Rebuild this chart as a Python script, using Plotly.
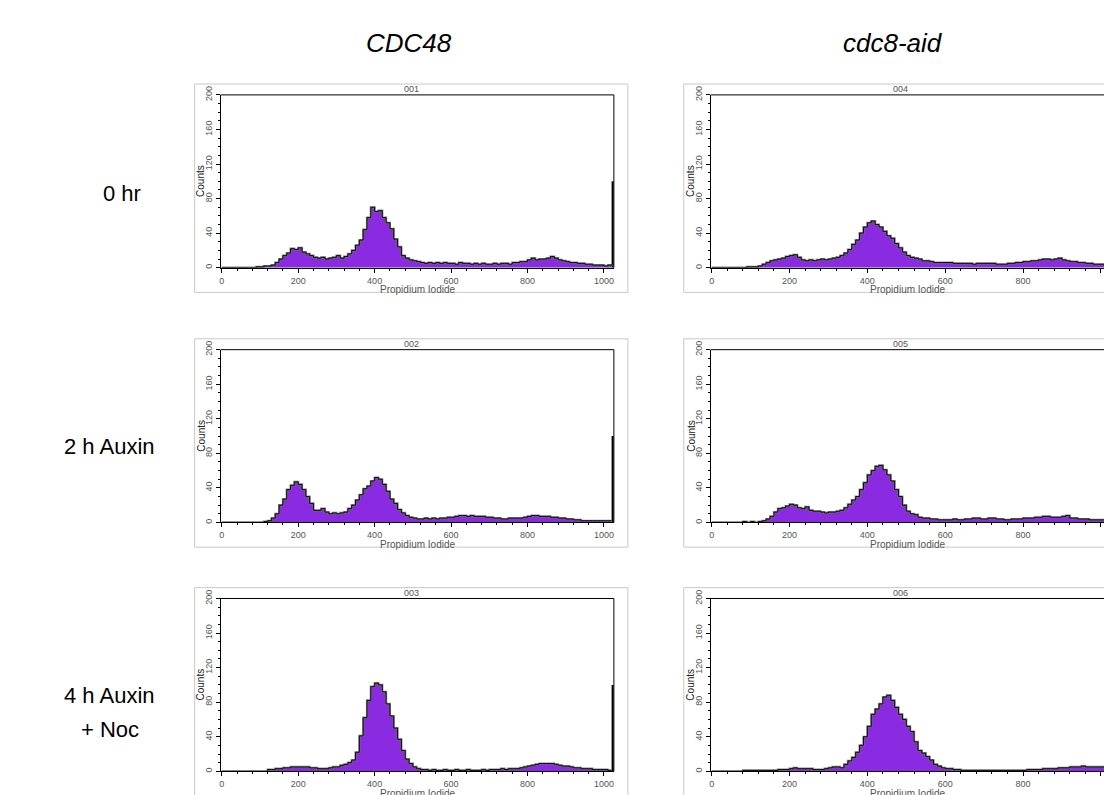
import plotly.graph_objects as go

# ---------------- data (counts per 10-channel bin) ----------------
channels = list(range(0, 1030, 10))  # 0 .. 1020

cdc48_0h = [
    0, 0, 0, 0, 0, 0, 0, 0, 0, 1,
    1, 2, 2, 3, 6, 10, 14, 17, 22, 21,
    23, 18, 16, 14, 12, 11, 12, 10, 11, 12,
    14, 11, 13, 16, 20, 26, 32, 44, 58, 70,
    65, 66, 58, 52, 45, 33, 24, 14, 11, 9,
    8, 7, 6, 5, 6, 5, 6, 5, 6, 5,
    5, 4, 6, 5, 5, 4, 5, 4, 5, 4,
    4, 5, 4, 5, 5, 4, 6, 6, 7, 7,
    9, 11, 9, 10, 10, 11, 13, 11, 9, 8,
    7, 6, 6, 5, 5, 4, 4, 3, 3, 3,
    2, 3, 4,
]
cdc48_2h = [
    0, 0, 0, 0, 0, 0, 0, 0, 0, 0,
    0, 1, 2, 5, 10, 20, 27, 38, 43, 47,
    44, 38, 30, 22, 14, 14, 16, 12, 10, 11,
    10, 11, 12, 16, 20, 26, 32, 39, 42, 48,
    52, 50, 44, 36, 27, 22, 15, 11, 8, 6,
    5, 4, 4, 5, 4, 5, 4, 5, 5, 6,
    6, 7, 8, 8, 7, 8, 7, 7, 7, 6,
    6, 5, 5, 4, 4, 5, 5, 5, 5, 6,
    7, 8, 8, 7, 7, 7, 6, 6, 5, 5,
    4, 4, 3, 3, 2, 2, 2, 2, 2, 2,
    2, 2, 2,
]
cdc48_4h_noc = [
    0, 0, 0, 0, 0, 0, 0, 0, 0, 0,
    0, 0, 2, 2, 3, 3, 4, 4, 5, 5,
    5, 5, 5, 4, 4, 3, 3, 3, 4, 5,
    5, 7, 8, 10, 13, 22, 41, 62, 82, 98,
    102, 100, 92, 78, 64, 50, 37, 24, 14, 9,
    5, 3, 2, 2, 1, 2, 1, 1, 2, 1,
    1, 2, 1, 1, 2, 1, 1, 1, 2, 1,
    2, 2, 2, 3, 2, 3, 3, 3, 4, 5,
    6, 7, 8, 9, 9, 9, 9, 8, 7, 6,
    6, 5, 4, 4, 3, 3, 3, 2, 2, 2,
    2, 1, 1,
]
cdc8aid_0h = [
    0, 0, 0, 0, 0, 0, 0, 0, 0, 1,
    1, 1, 2, 4, 6, 8, 9, 10, 11, 13,
    14, 15, 12, 9, 8, 9, 8, 9, 10, 9,
    10, 11, 12, 14, 17, 21, 27, 32, 40, 47,
    52, 54, 50, 47, 42, 37, 34, 28, 23, 18,
    14, 12, 11, 10, 8, 8, 7, 6, 6, 6,
    6, 6, 5, 5, 5, 5, 5, 4, 5, 5,
    5, 5, 5, 4, 4, 4, 5, 5, 6, 6,
    7, 7, 8, 8, 9, 10, 10, 9, 10, 11,
    9, 8, 7, 7, 6, 6, 5, 5, 4, 4,
    4, 4, 4,
]
cdc8aid_2h = [
    0, 0, 0, 0, 0, 0, 0, 0, 1, 0,
    1, 0, 1, 2, 4, 7, 12, 16, 17, 19,
    21, 20, 17, 16, 18, 14, 13, 13, 12, 11,
    12, 12, 13, 14, 17, 21, 26, 30, 38, 46,
    55, 60, 65, 66, 61, 55, 48, 38, 30, 20,
    13, 10, 9, 6, 5, 5, 4, 4, 3, 3,
    3, 3, 4, 3, 3, 4, 4, 5, 5, 4,
    4, 5, 5, 4, 4, 3, 3, 4, 4, 4,
    5, 5, 5, 6, 6, 7, 7, 6, 6, 6,
    7, 8, 5, 5, 4, 4, 4, 3, 3, 3,
    3, 3, 3,
]
cdc8aid_4h_noc = [
    0, 0, 0, 0, 0, 0, 0, 0, 1, 1,
    1, 1, 1, 1, 1, 1, 1, 2, 2, 2,
    3, 4, 3, 3, 3, 3, 2, 2, 2, 3,
    4, 5, 5, 4, 8, 12, 16, 22, 30, 40,
    52, 66, 72, 78, 86, 88, 82, 74, 66, 60,
    52, 46, 34, 24, 21, 17, 13, 8, 6, 4,
    3, 3, 2, 2, 1, 1, 1, 1, 1, 1,
    1, 1, 1, 1, 1, 1, 1, 1, 1, 1,
    1, 2, 2, 2, 2, 3, 3, 3, 3, 4,
    4, 4, 5, 5, 5, 6, 5, 5, 5, 5,
    5, 5, 5,
]
overflow_channel = [1023]
overflow_counts = [100, 100, 100, 100, 100, 100]

panel_series = [cdc48_0h, cdc48_2h, cdc48_4h_noc, cdc8aid_0h, cdc8aid_2h, cdc8aid_4h_noc]
panel_names = ["001", "002", "003", "004", "005", "006"]
col_labels = ["CDC48", "cdc8-aid"]
row_labels = ["0 hr", "2 h Auxin", "4 h Auxin<br>+ Noc"]
x_ticks = [0, 200, 400, 600, 800, 1000]
y_ticks = [0, 40, 80, 120, 160, 200]

# ---------------- layout geometry (pixels) ----------------
W, H = 1104, 795
col_px = [(219, 613), (710, 1104)]
row_px = [(87, 262), (345, 520), (597, 772)]
xranges = [[-3, 1026], [-2.5, 1008]]
box_px_x = [(193, 627), (683, 1117)]


def px(x):
    return x / W


def py(y):
    return 1 - y / H


FONT = "Arial, Liberation Sans, sans-serif"
PURPLE = "#8A2BE2"

fig = go.Figure()
shapes = []
annotations = []

for i, counts in enumerate(panel_series):
    col, row = i // 3, i % 3
    n = i + 1
    xa = "x" if n == 1 else f"x{n}"
    ya = "y" if n == 1 else f"y{n}"
    x0, x1 = col_px[col]
    yt, yb = row_px[row]

    fig.add_trace(go.Scatter(x=channels, y=counts, xaxis=xa, yaxis=ya, mode="lines",
                             line=dict(shape="hv", width=0, color=PURPLE),
                             fill="tozeroy", fillcolor=PURPLE, showlegend=False,
                             hoverinfo="skip"))
    fig.add_trace(go.Scatter(x=channels, y=counts, xaxis=xa, yaxis=ya, mode="lines",
                             line=dict(shape="hv", width=2.2, color="rgba(110,110,110,0.85)"),
                             showlegend=False, hoverinfo="skip"))
    fig.add_trace(go.Scatter(x=channels, y=counts, xaxis=xa, yaxis=ya, mode="lines",
                             line=dict(shape="hv", width=0.9, color="black"),
                             showlegend=False, hoverinfo="skip"))
    fig.add_trace(go.Bar(x=overflow_channel, y=[overflow_counts[i]], xaxis=xa, yaxis=ya,
                         width=5, marker=dict(color="black", line=dict(width=0)),
                         showlegend=False, hoverinfo="skip"))

    axis_common = dict(showline=True, linecolor="black", linewidth=1, mirror=False,
                       showgrid=False, zeroline=False, ticks="outside", ticklen=4,
                       tickcolor="black", tickwidth=1,
                       tickfont=dict(family=FONT, size=9, color="#555555"))
    fig.layout[f"xaxis{'' if n == 1 else n}"] = dict(
        axis_common, domain=[px(x0), px(x1)], range=xranges[col], anchor=ya,
        tickvals=x_ticks,
        minor=dict(dtick=40, tick0=0, ticks="outside", ticklen=2, tickcolor="black"))
    fig.layout[f"yaxis{'' if n == 1 else n}"] = dict(
        axis_common, domain=[py(yb), py(yt)], range=[0, 200], anchor=xa,
        tickvals=y_ticks, tickangle=-90,
        minor=dict(dtick=10, tick0=0, ticks="outside", ticklen=2, tickcolor="black"))

    # frame: top line and (visible) right line
    shapes.append(dict(type="line", xref=f"{xa} domain", yref=f"{ya} domain",
                       x0=0, x1=1, y0=1, y1=1, line=dict(color="black", width=1)))
    if col == 0:
        shapes.append(dict(type="line", xref=f"{xa} domain", yref=f"{ya} domain",
                           x0=1, x1=1, y0=0, y1=1, line=dict(color="black", width=1)))
    # outer light-grey panel box
    bx0, bx1 = box_px_x[col]
    shapes.append(dict(type="rect", xref="paper", yref="paper",
                       x0=px(bx0), x1=px(bx1), y0=py(yt - 11), y1=py(yb + 25),
                       line=dict(color="#c8c8c8", width=1), layer="below"))

    # panel title, axis titles
    annotations.append(dict(text=panel_names[i], xref="paper", yref="paper",
                            x=px((bx0 + bx1) / 2), y=py(yt - 6), showarrow=False,
                            font=dict(family=FONT, size=9, color="#555555"),
                            xanchor="center", yanchor="middle"))
    annotations.append(dict(text="Counts", xref="paper", yref="paper",
                            x=px(x0 - 20), y=py((yt + yb) / 2), showarrow=False,
                            textangle=-90, font=dict(family=FONT, size=10, color="#222222"),
                            xanchor="center", yanchor="middle"))
    annotations.append(dict(text="Propidium Iodide", xref="paper", yref="paper",
                            x=px((x0 + x1) / 2 if col == 0 else 907), y=py(yb + 22),
                            showarrow=False,
                            font=dict(family=FONT, size=10, color="#555555"),
                            xanchor="center", yanchor="middle"))

# column headers
for cx, label in zip([408, 893], col_labels):
    annotations.append(dict(text=f"<i>{label}</i>", xref="paper", yref="paper",
                            x=px(cx), y=py(34), showarrow=False,
                            font=dict(family=FONT, size=26, color="black"),
                            xanchor="center", yanchor="middle"))
# row labels (multi-line labels are set line by line to match the reference spacing)
row_label_pos = [(120, [187]), (108, [443]), (108, [695, 730])]
for (cx, cys), label in zip(row_label_pos, row_labels):
    for cy, part in zip(cys, label.split("<br>")):
        annotations.append(dict(text=part, xref="paper", yref="paper",
                                x=px(cx), y=py(cy), showarrow=False, align="center",
                                font=dict(family=FONT, size=22, color="black"),
                                xanchor="center", yanchor="middle"))

fig.update_layout(width=W, height=H, margin=dict(l=0, r=0, t=0, b=0),
                  paper_bgcolor="white", plot_bgcolor="white",
                  shapes=shapes, annotations=annotations, barmode="overlay",
                  showlegend=False)

fig.write_html("out.html", config={"displayModeBar": False},
               post_script="document.body.style.margin='0';document.body.style.overflow='hidden';")
